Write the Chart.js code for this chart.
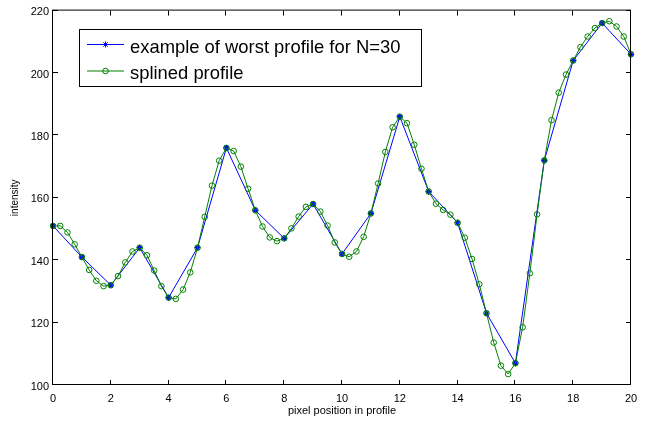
<!DOCTYPE html>
<html>
<head>
<meta charset="utf-8">
<title>worst profile</title>
<script src="https://cdn.jsdelivr.net/npm/chart.js@4.4.1/dist/chart.umd.min.js"></script>
<style>
    body { margin: 0; background: #fff; }
    #wrap { width: 648px; height: 423px; position: relative; }
</style>
</head>
<body>
<div id="wrap"><canvas id="myChart"></canvas></div>
<script>
//Data
var profileX = [0, 1, 2, 3, 4, 5, 6, 7, 8, 9, 10, 11, 12, 13, 14, 15, 16, 17, 18, 19, 20];
var profileY = [151, 141, 132, 144, 128, 144, 176, 156, 147, 158, 142, 155, 186, 162, 152, 123, 107, 172, 204, 216, 206];

var splineX = [0, 0.25, 0.5, 0.75, 1, 1.25, 1.5, 1.75, 2, 2.25, 2.5, 2.75, 3, 3.25, 3.5, 3.75,
    4, 4.25, 4.5, 4.75, 5, 5.25, 5.5, 5.75, 6, 6.25, 6.5, 6.75, 7, 7.25, 7.5, 7.75,
    8, 8.25, 8.5, 8.75, 9, 9.25, 9.5, 9.75, 10, 10.25, 10.5, 10.75, 11, 11.25, 11.5, 11.75,
    12, 12.25, 12.5, 12.75, 13, 13.25, 13.5, 13.75, 14, 14.25, 14.5, 14.75, 15, 15.25, 15.5, 15.75,
    16, 16.25, 16.5, 16.75, 17, 17.25, 17.5, 17.75, 18, 18.25, 18.5, 18.75, 19, 19.25, 19.5, 19.75, 20];
var splineY = [151, 151, 148.9, 145.1, 141, 136.9, 133.4, 131.7, 132, 134.9, 139.3, 142.8, 144, 141.6, 136.7, 131.7,
    128, 127.6, 130.6, 136.1, 144, 153.9, 163.9, 171.9, 176, 175, 170, 162.9, 156, 150.8, 147.3, 146.1,
    147, 150.2, 154, 157.1, 158, 155.6, 151.1, 145.7, 142, 141.1, 142.8, 147.5, 155, 164.6, 174.7, 182.6,
    186, 183.9, 177, 169.3, 162, 158.1, 156.1, 154.6, 152, 147.2, 140.4, 132.3, 123, 113.6, 106.2, 103.5,
    107, 118.5, 135.8, 154.7, 172, 184.9, 193.7, 199.5, 204, 208.3, 211.7, 214.4, 216, 216.6, 214.9, 211.7, 206];

var xTicksStep = 2;
var yTicksStep = 20;
var legendLabels = ["example of worst profile for N=30", "splined profile"];

var blue = "#0000ff";
var green = "#008000";
var fontName = "'Liberation Sans', Arial, Helvetica, sans-serif";

function toPoints(xs, ys) {
    var pts = [];
    for (var i = 0; i < xs.length; i++) {
        pts.push({ x: xs[i], y: ys[i] });
    }
    return pts;
}

//Box round the plot with ticks pointing inward on all four sides (matlab style)
var frameTicks = {
    id: "frameTicks",
    afterDatasetsDraw: function(chart) {
        var ctx = chart.ctx;
        var a = chart.chartArea;
        var xs = chart.scales.x;
        var ys = chart.scales.y;
        var len = 5;
        ctx.save();
        ctx.strokeStyle = "#000";
        ctx.lineWidth = 1;
        ctx.beginPath();
        xs.ticks.forEach(function(t) {
            var px = Math.round(xs.getPixelForValue(t.value)) - 0.5;
            ctx.moveTo(px, a.bottom);
            ctx.lineTo(px, a.bottom - len);
            ctx.moveTo(px, a.top);
            ctx.lineTo(px, a.top + len);
        });
        ys.ticks.forEach(function(t) {
            var py = Math.round(ys.getPixelForValue(t.value)) - 0.5;
            ctx.moveTo(a.left, py);
            ctx.lineTo(a.left + len, py);
            ctx.moveTo(a.right, py);
            ctx.lineTo(a.right - len, py);
        });
        ctx.stroke();
        ctx.strokeRect(a.left - 0.5, a.top - 0.5, a.right - a.left, a.bottom - a.top);
        ctx.restore();
    }
};

//Legend box in the upper left of the plot
var boxLegend = {
    id: "boxLegend",
    afterDraw: function(chart) {
        var ctx = chart.ctx;
        var sets = chart.data.datasets;
        ctx.save();
        ctx.fillStyle = "#fff";
        ctx.fillRect(79.5, 29.5, 342, 57);
        ctx.strokeStyle = "#000";
        ctx.lineWidth = 1;
        ctx.strokeRect(79.5, 29.5, 342, 57);

        var rows = [44.5, 71];
        for (var i = 0; i < legendLabels.length; i++) {
            var ds = sets[i];
            var y = rows[i];
            ctx.strokeStyle = ds.borderColor;
            ctx.lineWidth = 1;
            ctx.beginPath();
            ctx.moveTo(87, y);
            ctx.lineTo(124, y);
            ctx.stroke();
            ctx.strokeStyle = ds.pointBorderColor;
            ctx.fillStyle = "rgba(0,0,0,0)";
            Chart.helpers.drawPoint(ctx, {
                pointStyle: ds.pointStyle,
                radius: ds.pointRadius,
                borderWidth: 1,
                rotation: 0
            }, 105.5, y);
            ctx.fillStyle = "#000";
            ctx.font = "18.4px " + fontName;
            ctx.textBaseline = "alphabetic";
            ctx.textAlign = "left";
            ctx.fillText(legendLabels[i], 130, y + 8);
        }
        ctx.restore();
    }
};

var ctx = document.getElementById("myChart");
var myChart = new Chart(ctx, {
    type: "line",
    data: {
        datasets: [{
            label: legendLabels[0],
            data: toPoints(profileX, profileY),
            borderColor: blue,
            borderWidth: 1,
            pointStyle: "star",
            pointRadius: 3,
            pointBorderColor: blue,
            pointBackgroundColor: blue,
            pointBorderWidth: 1.2,
            tension: 0,
            clip: false,
            order: 1
        }, {
            label: legendLabels[1],
            data: toPoints(splineX, splineY),
            borderColor: green,
            borderWidth: 1,
            pointStyle: "circle",
            pointRadius: 2.8,
            pointBorderColor: green,
            pointBackgroundColor: "rgba(0,0,0,0)",
            pointBorderWidth: 1,
            tension: 0,
            clip: false,
            order: 0
        }]
    },
    options: {
        responsive: true,
        maintainAspectRatio: false,
        animation: false,
        events: [],
        layout: { padding: { left: 0, top: 7, right: 17, bottom: 0 } },
        plugins: {
            legend: { display: false },
            tooltip: { enabled: false }
        },
        scales: {
            x: {
                type: "linear",
                min: 0,
                max: 20,
                grid: { display: false, drawTicks: false },
                border: { display: false },
                ticks: {
                    stepSize: xTicksStep,
                    padding: 7,
                    color: "#000",
                    font: { family: fontName, size: 11 }
                },
                title: {
                    display: true,
                    text: "pixel position in profile",
                    color: "#000",
                    font: { family: fontName, size: 11 },
                    padding: { top: 0, bottom: 5 }
                },
                afterFit: function(scale) { scale.height = 38; }
            },
            y: {
                type: "linear",
                min: 100,
                max: 220,
                grid: { display: false, drawTicks: false },
                border: { display: false },
                ticks: {
                    stepSize: yTicksStep,
                    padding: 4,
                    labelOffset: 1.5,
                    color: "#000",
                    font: { family: fontName, size: 11 }
                },
                title: {
                    display: true,
                    text: "intensity",
                    color: "#000",
                    font: { family: fontName, size: 10 },
                    padding: { top: 9, bottom: 0 }
                },
                afterFit: function(scale) { scale.width = 53; }
            }
        }
    },
    plugins: [frameTicks, boxLegend]
});
</script>
</body>
</html>
